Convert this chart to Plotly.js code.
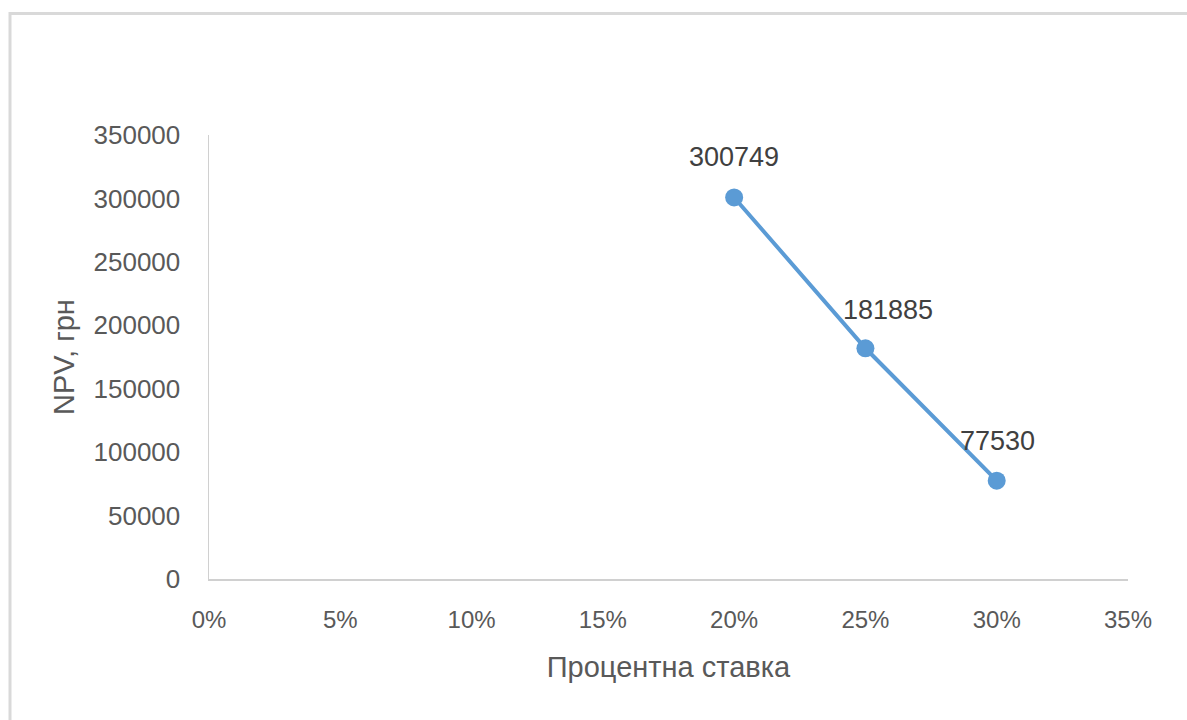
<!DOCTYPE html>
<html>
<head>
<meta charset="utf-8">
<script src="https://cdn.plot.ly/plotly-3.0.1.min.js"></script>
<style>html,body{margin:0;padding:0;background:#fff;}#chart{width:1187px;height:720px;}</style>
</head>
<body>
<div id="chart"></div>
<script>
const rates = [0.20, 0.25, 0.30];
const npv = [300749, 181885, 77530];
const npvLabels = ['300749', '181885', '77530'];
const xTickVals = [0, 0.05, 0.10, 0.15, 0.20, 0.25, 0.30, 0.35];
const xTickText = ['0%', '5%', '10%', '15%', '20%', '25%', '30%', '35%'];
const yTickVals = [0, 50000, 100000, 150000, 200000, 250000, 300000, 350000];
const yTickText = ['0', '50000', '100000', '150000', '200000', '250000', '300000', '350000'];
const xTitle = 'Процентна ставка';
const yTitle = 'NPV, грн';

const FONT = 'Liberation Sans, Arial, sans-serif';
const TXT = '#595959';
const labelShiftX = [0, 23, 1];
const labelShiftY = [40, 38, 40];

const annotations = rates.map((r, i) => ({
  x: r, y: npv[i], xref: 'x', yref: 'y', text: npvLabels[i],
  showarrow: false, xshift: labelShiftX[i], yshift: labelShiftY[i],
  font: {family: FONT, size: 27, color: '#404040'}
}));

const trace = {
  x: rates, y: npv, type: 'scatter', mode: 'lines+markers',
  line: {color: '#5B9BD5', width: 4},
  marker: {color: '#5B9BD5', size: 18},
  hoverinfo: 'none', showlegend: false
};

const layout = {
  width: 1187, height: 720,
  paper_bgcolor: '#fff', plot_bgcolor: '#fff',
  margin: {l: 209, r: 59, t: 135, b: 141, pad: 0},
  font: {family: FONT, color: TXT, size: 24},
  xaxis: {
    range: [0, 0.35], tickvals: xTickVals, ticktext: xTickText,
    showgrid: false, zeroline: false, showline: true, linecolor: '#d0d0d0', linewidth: 1.5,
    ticks: '', ticklabelstandoff: 19, tickfont: {size: 24, color: TXT, family: FONT},
    title: {text: xTitle, font: {size: 29, color: TXT, family: FONT}, standoff: 24},
    fixedrange: true, automargin: false
  },
  yaxis: {
    range: [0, 350000], tickvals: yTickVals, ticktext: yTickText,
    showgrid: false, zeroline: false, showline: true, linecolor: '#d0d0d0', linewidth: 1.5,
    ticks: '', ticklabelstandoff: 22, tickfont: {size: 26, color: TXT, family: FONT},
    title: {text: yTitle, font: {size: 29, color: TXT, family: FONT}, standoff: 10},
    fixedrange: true, automargin: false
  },
  annotations: annotations,
  shapes: [{
    type: 'rect', xref: 'paper', yref: 'paper',
    x0: -199/919, x1: 1.2, y0: -0.5, y1: (579-13.5)/444,
    line: {color: '#d9d9d9', width: 3}, fillcolor: 'rgba(0,0,0,0)', layer: 'below'
  }]
};

Plotly.newPlot('chart', [trace], layout, {staticPlot: true, displayModeBar: false});
</script>
</body>
</html>
